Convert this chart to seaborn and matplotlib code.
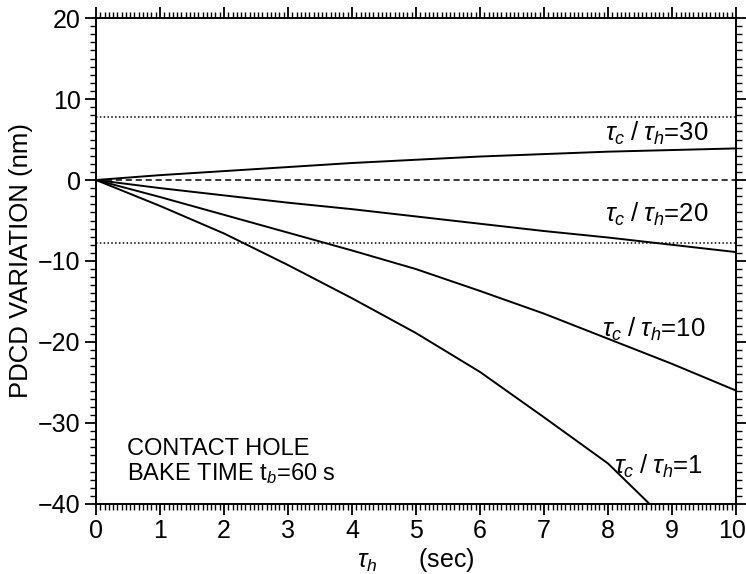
import numpy as np
import pandas as pd
import matplotlib
matplotlib.use("Agg")
import matplotlib.pyplot as plt
import matplotlib.transforms as mtransforms
from matplotlib.ticker import MultipleLocator
import seaborn as sns

# ---- data ----
x30 = [0, 1, 2, 3, 4, 5, 6, 7, 8, 9, 10]
y30 = [0, 0.6, 1.1, 1.6, 2.1, 2.5, 2.9, 3.2, 3.5, 3.7, 3.9]

x20 = [0, 1, 2, 3, 4, 5, 6, 7, 8, 9, 10]
y20 = [0, -1.0, -1.9, -2.8, -3.6, -4.5, -5.4, -6.3, -7.1, -8.0, -8.9]

x10 = [0, 1, 2, 3, 4, 5, 6, 7, 8, 9, 10]
y10 = [0, -2.1, -4.3, -6.5, -8.7, -11.0, -13.7, -16.5, -19.6, -22.7, -26.0]

x1 = [0, 1, 2, 3, 4, 5, 6, 7, 8, 8.65]
y1 = [0, -3.2, -6.6, -10.5, -14.6, -18.9, -23.7, -29.3, -35.0, -40.0]

ratios = ["30", "20", "10", "1"]
label_x = [7.95, 7.95, 7.9, 8.1]
label_y = [5.7, -4.3, -18.4, -35.4]

tol_level = 7.8
xlim = (0, 10)
ylim = (-40, 20)

frames = []
for r, xs, ys in zip(ratios, [x30, x20, x10, x1], [y30, y20, y10, y1]):
    frames.append(pd.DataFrame({"tau_h": xs, "pdcd": ys, "ratio": r}))
df = pd.concat(frames, ignore_index=True)

sns.set_theme(style="white")
plt.rcParams["font.family"] = ["Liberation Sans", "DejaVu Sans"]
plt.rcParams["mathtext.fontset"] = "custom"
plt.rcParams["mathtext.rm"] = "Liberation Sans"
plt.rcParams["mathtext.it"] = "Liberation Sans:italic"
plt.rcParams["text.color"] = "black"
plt.rcParams["axes.labelcolor"] = "black"

fig = plt.figure(figsize=(7.46, 5.74), dpi=100)
ax = fig.add_axes([0.1287, 0.122, 0.8579, 0.8466])

sns.lineplot(data=df, x="tau_h", y="pdcd", units="ratio", estimator=None,
             color="black", linewidth=1.4, ax=ax, legend=False, sort=False)

ax.axhline(0, color="black", linestyle=(0, (4, 2.5)), linewidth=1.1)
ax.axhline(tol_level, color="black", linestyle=(0, (1, 1.5)), linewidth=1.1)
ax.axhline(-tol_level, color="black", linestyle=(0, (1, 1.5)), linewidth=1.1)

for r, lx, ly in zip(ratios, label_x, label_y):
    ax.text(lx, ly, r"$\tau_c\;/\;\tau_h$=" + r, fontsize=18.5, ha="left",
            va="center", color="black")

ax.text(0.48, -33.2, "CONTACT HOLE", fontsize=17, ha="left", va="center")
ax.text(0.48, -36.3, r"BAKE TIME t$_b$=60 s", fontsize=17, ha="left",
        va="center")

ax.set_xlim(*xlim)
ax.set_ylim(*ylim)
ax.xaxis.set_major_locator(MultipleLocator(1))
ax.xaxis.set_minor_locator(MultipleLocator(1 / 15))
ax.yaxis.set_major_locator(MultipleLocator(10))
ax.yaxis.set_minor_locator(MultipleLocator(1))

ax.tick_params(which="major", direction="out", length=8, width=1.3,
               top=True, right=True, bottom=True, left=True,
               labelsize=18, colors="black", pad=3)
ax.tick_params(which="minor", direction="out", length=4.5, width=1.0,
               top=True, right=True, bottom=True, left=True, colors="black")
for s in ax.spines.values():
    s.set_color("black")
    s.set_linewidth(1.4)

ax.set_xlabel(r"$\tau_h$      (sec)", fontsize=18, labelpad=2)
ax.set_ylabel("PDCD VARIATION (nm)", fontsize=18.5, labelpad=4)

# nudge the last x tick label slightly left so it stays inside the figure
fig.canvas.draw()
offset = mtransforms.ScaledTranslation(-4 / 100, 0, fig.dpi_scale_trans)
for lab in ax.get_xticklabels():
    if lab.get_text() == "10":
        lab.set_transform(lab.get_transform() + offset)

fig.savefig("out.png", dpi=100, facecolor="white")
